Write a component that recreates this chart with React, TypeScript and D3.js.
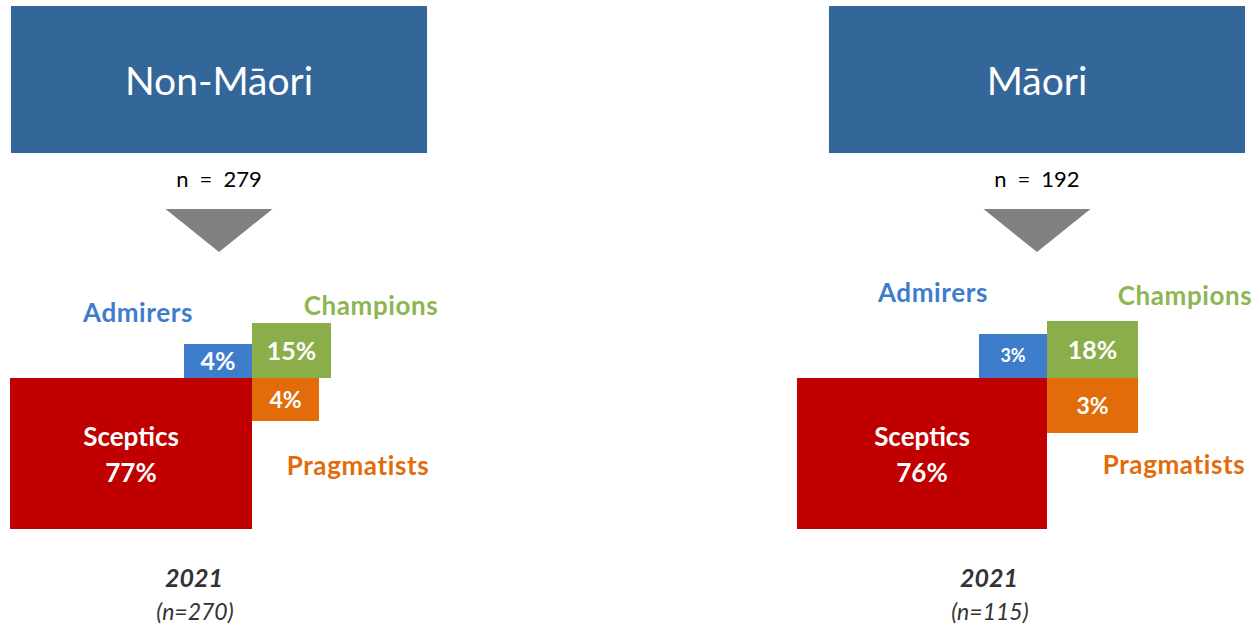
import React from 'react';
import * as d3 from 'd3';

// segments, clockwise from top-left quadrant
const segments = ['Admirers', 'Champions', 'Pragmatists', 'Sceptics'];
const fillColors = ['#3D7DCC', '#8AAF4A', '#E36C0A', '#C00000'];
const labelColors = ['#3D7DCC', '#8DB653', '#E36C0A', '#C00000'];

const panelTitles = ['Non-Māori', 'Māori'];
const panelN = [279, 192];
const waveYears = ['2021', '2021'];
const waveN = [270, 115];

const nonMaoriShares = [4, 15, 4, 77];
const maoriShares = [3, 18, 3, 76];

// box extents as drawn in the source (layout units)
const nonMaoriBoxW = [68, 79, 67, 242];
const nonMaoriBoxH = [34, 55, 43, 151];
const maoriBoxW = [68, 91, 91, 250];
const maoriBoxH = [44, 57, 55, 151];

const W = 1256, H = 625;
const quadX = [-1, 1, 1, -1];
const quadY = [-1, -1, 1, 1];

const panels = [
  { title: panelTitles[0], n: panelN[0], year: waveYears[0], wn: waveN[0], shares: nonMaoriShares, bw: nonMaoriBoxW, bh: nonMaoriBoxH,
    jdx: 33, labels: [[-114, -56], [119, -63], [106, 97]], smallFirst: false },
  { title: panelTitles[1], n: panelN[1], year: waveYears[1], wn: waveN[1], shares: maoriShares, bw: maoriBoxW, bh: maoriBoxH,
    jdx: 10, labels: [[-114, -76], [138, -73], [127, 96]], smallFirst: true },
];

const font = 'Lato, "Open Sans", sans-serif';

const Panel: React.FC<{ p: typeof panels[0]; x0: number; bw: number }> = ({ p, x0, bw }) => {
  const cx = x0 + bw / 2;
  const jx = cx + p.jdx, jy = 378;
  // layout units map 1:1 around the junction point
  const xs = d3.scaleLinear().domain([0, 1]).range([jx, jx + 1]);
  const ys = d3.scaleLinear().domain([0, 1]).range([jy, jy + 1]);
  const tri = d3.line()([[cx - 53.5, 209], [cx + 53.5, 209], [cx, 252]]) + 'Z';

  return (
    <g>
      <rect x={x0} y={6} width={bw} height={147} fill="#336699" />
      <text x={cx} y={95} textAnchor="middle" fill="#fff" fontSize={39} fontFamily={font}>{p.title}</text>
      <text x={cx} y={187} textAnchor="middle" fill="#000" fontSize={22} fontFamily={font}>{`n\u2002=\u2002${p.n}`}</text>
      <path d={tri} fill="#808080" />

      {segments.map((s, i) => {
        const w = p.bw[i], h = p.bh[i];
        const x1 = xs(quadX[i] < 0 ? -w : 0), x2 = xs(quadX[i] < 0 ? 0 : w);
        const y1 = ys(quadY[i] < 0 ? -h : 0), y2 = ys(quadY[i] < 0 ? 0 : h);
        const mx = (x1 + x2) / 2, my = (y1 + y2) / 2;
        if (s === 'Sceptics') {
          return (
            <g key={s}>
              <rect x={x1} y={y1} width={x2 - x1} height={y2 - y1} fill={fillColors[i]} />
              <text x={mx} y={my - 8} textAnchor="middle" fill="#fff" fontSize={26} fontWeight="bold" fontFamily={font}>{s}</text>
              <text x={mx} y={my + 28} textAnchor="middle" fill="#fff" fontSize={26} fontWeight="bold" fontFamily={font}>{p.shares[i]}%</text>
            </g>
          );
        }
        const fs = i === 0 && p.smallFirst ? 18 : i === 2 ? 23 : 25;
        const [ldx, ldy] = p.labels[i];
        return (
          <g key={s}>
            <rect x={x1} y={y1} width={x2 - x1} height={y2 - y1} fill={fillColors[i]} />
            <text x={mx} y={my} dy="0.36em" textAnchor="middle" fill="#fff" fontSize={fs} fontWeight="bold" fontFamily={font}>{p.shares[i]}%</text>
            <text x={jx + ldx} y={jy + ldy} textAnchor="middle" fill={labelColors[i]} fontSize={26} letterSpacing={0.6} fontWeight="bold" fontFamily={font}>{s}</text>
          </g>
        );
      })}

      <text x={jx - 58} y={587} textAnchor="middle" fill="#333" fontSize={25} fontWeight="bold" fontStyle="italic" fontFamily={font}>{p.year}</text>
      <text x={jx - 57} y={620} textAnchor="middle" fill="#333" fontSize={23} fontStyle="italic" fontFamily={font}>(n={p.wn})</text>
    </g>
  );
};

export default function App() {
  const band = d3.scaleBand<string>().domain(panelTitles).range([11, 1245]).paddingInner(0.4914);
  return (
    <svg width={W} height={H} style={{ position: 'absolute', left: 0, top: 0, background: '#fff' }}>
      {panels.map(p => (
        <Panel key={p.title} p={p} x0={band(p.title)!} bw={band.bandwidth()} />
      ))}
    </svg>
  );
}
